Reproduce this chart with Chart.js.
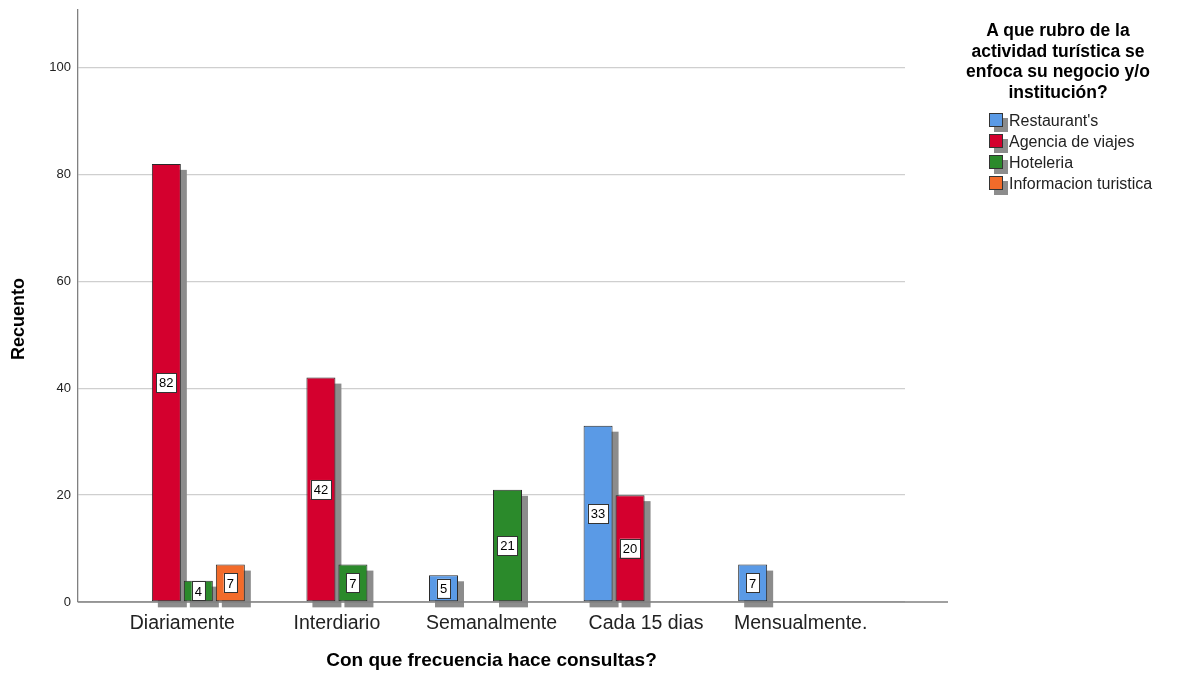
<!DOCTYPE html>
<html>
<head>
<meta charset="utf-8">
<script src="https://cdn.jsdelivr.net/npm/chart.js@4.4.1/dist/chart.umd.min.js"></script>
<style>
  body { margin: 0; background: #fff; font-family: "Liberation Sans", Arial, sans-serif; }
  #wrap { position: relative; width: 1190px; height: 673px; }
  #legendTitle { position: absolute; left: 958px; top: 20px; width: 200px; text-align: center;
    font-weight: bold; font-size: 17.5px; line-height: 20.7px; color: #000; }
  .item { position: absolute; left: 989px; height: 21px; font-size: 16px; line-height: 21px; color: #222; white-space: nowrap; }
  .item span.box { position: absolute; left: 0; top: 3px; width: 12px; height: 12px; border: 1px solid #333;
    box-shadow: 5px 5px 0 #8c8c8c; }
  .item span.txt { position: absolute; left: 20px; top: 0; }
</style>
</head>
<body>
<div id="wrap">
  <canvas id="chart" width="1190" height="673"></canvas>
  <div id="legendTitle">A que rubro de la<br>actividad turística se<br>enfoca su negocio y/o<br>institución?</div>
  <div id="legendItems"></div>
</div>
<script>
// categories and series
const categories = ['Diariamente', 'Interdiario', 'Semanalmente', 'Cada 15 dias', 'Mensualmente.'];
const restaurants = [null, null, 5, 33, 7];
const agencia = [82, 42, null, 20, null];
const hoteleria = [4, 7, 21, null, null];
const informacion = [7, null, null, null, null];
const seriesNames = ["Restaurant's", 'Agencia de viajes', 'Hoteleria', 'Informacion turistica'];
const seriesColors = ['#5a9ae6', '#d4002e', '#2b8a2b', '#f26b2a'];
const yTicks = [0, 20, 40, 60, 80, 100];

const positions = categories.map((c, i) => i + 1);
const seriesData = [restaurants, agencia, hoteleria, informacion];
const FONT = '"Liberation Sans", Arial, sans-serif';

// legend
const legendBox = document.getElementById('legendItems');
seriesNames.forEach((name, i) => {
    const row = document.createElement('div');
    row.className = 'item';
    row.style.top = (110 + i * 21) + 'px';
    row.innerHTML = '<span class="box" style="background:' + seriesColors[i] + '"></span><span class="txt"></span>';
    row.querySelector('.txt').textContent = name;
    legendBox.appendChild(row);
});

// gray drop shadows behind bars + the x baseline
const shadowPlugin = {
    id: 'shadows',
    beforeDatasetsDraw(chart) {
        const c = chart.ctx;
        const base = chart.scales.y.getPixelForValue(0);
        c.save();
        c.fillStyle = '#8c8c8c';
        chart.data.datasets.forEach((ds, i) => {
            chart.getDatasetMeta(i).data.forEach((bar, j) => {
                if (ds.data[j] == null) return;
                const p = bar.getProps(['x', 'y', 'base', 'width'], true);
                c.fillRect(p.x - p.width / 2 + 6, p.y + 6, p.width, p.base - p.y);
            });
        });
        c.strokeStyle = '#808080';
        c.lineWidth = 1.3;
        c.beginPath();
        c.moveTo(chart.chartArea.left, base);
        c.lineTo(chart.chartArea.right + 43, base);
        c.stroke();
        c.restore();
    }
};

// value boxes in the middle of each bar, and the y title
const labelPlugin = {
    id: 'valueBoxes',
    afterDatasetsDraw(chart) {
        const c = chart.ctx;
        c.save();
        c.font = '13px ' + FONT;
        c.textAlign = 'center';
        c.textBaseline = 'middle';
        chart.data.datasets.forEach((ds, i) => {
            chart.getDatasetMeta(i).data.forEach((bar, j) => {
                const v = ds.data[j];
                if (v == null) return;
                const p = bar.getProps(['x', 'y', 'base'], true);
                const cy = (p.y + p.base) / 2;
                const txt = String(v);
                const w = c.measureText(txt).width + 6;
                const h = 19;
                c.fillStyle = '#fff';
                c.fillRect(p.x - w / 2, cy - h / 2, w, h);
                c.strokeStyle = '#333';
                c.lineWidth = 1;
                c.strokeRect(Math.round(p.x - w / 2) + 0.5, Math.round(cy - h / 2) + 0.5, Math.round(w), h);
                c.fillStyle = '#000';
                c.fillText(txt, p.x, cy + 1);
            });
        });
        // y axis title, sits a bit below the plot middle like the original
        const area = chart.chartArea;
        c.translate(19, (area.top + area.bottom) / 2 + 13);
        c.rotate(-Math.PI / 2);
        c.font = 'bold 18px ' + FONT;
        c.fillText('Recuento', 0, 0);
        c.restore();
    }
};

const ctx = document.getElementById('chart').getContext('2d');
new Chart(ctx, {
    type: 'bar',
    data: {
        labels: positions,
        datasets: seriesNames.map((name, i) => ({
            label: name,
            data: seriesData[i],
            backgroundColor: seriesColors[i],
            borderColor: '#2a2a2a',
            borderWidth: 1,
            borderSkipped: false
        }))
    },
    options: {
        responsive: false,
        animation: false,
        layout: { padding: { top: 10, right: 285, left: 0, bottom: 0 } },
        plugins: {
            legend: { display: false },
            tooltip: { enabled: false }
        },
        datasets: { bar: { categoryPercentage: 0.828, barPercentage: 0.906 } },
        scales: {
            x: {
                type: 'linear',
                min: 0.325,
                max: 5.675,
                offset: false,
                grid: { display: false },
                border: { display: false },
                afterBuildTicks: s => { s.ticks = positions.map(v => ({ value: v })); },
                ticks: {
                    autoSkip: false,
                    maxRotation: 0,
                    padding: 2,
                    color: '#222',
                    font: { size: 19.5, family: FONT },
                    callback: v => categories[v - 1]
                },
                title: {
                    display: true,
                    text: 'Con que frecuencia hace consultas?',
                    color: '#000',
                    font: { size: 19, weight: 'bold', family: FONT },
                    padding: { top: 0, bottom: 1 }
                },
                afterFit: s => { s.height = 71; s.paddingLeft = 0; s.paddingRight = 0; }
            },
            y: {
                min: 0,
                max: 110.8,
                afterBuildTicks: s => { s.ticks = yTicks.map(v => ({ value: v })); },
                grid: { color: '#cfcfcf', lineWidth: 1.3, drawTicks: false },
                border: { color: '#808080', width: 1.3 },
                ticks: {
                    padding: 7,
                    color: '#222',
                    font: { size: 13, family: FONT }
                },
                afterFit: s => { s.width = 78; s.paddingTop = 0; s.paddingBottom = 0; }
            }
        }
    },
    plugins: [shadowPlugin, labelPlugin]
});
</script>
</body>
</html>
